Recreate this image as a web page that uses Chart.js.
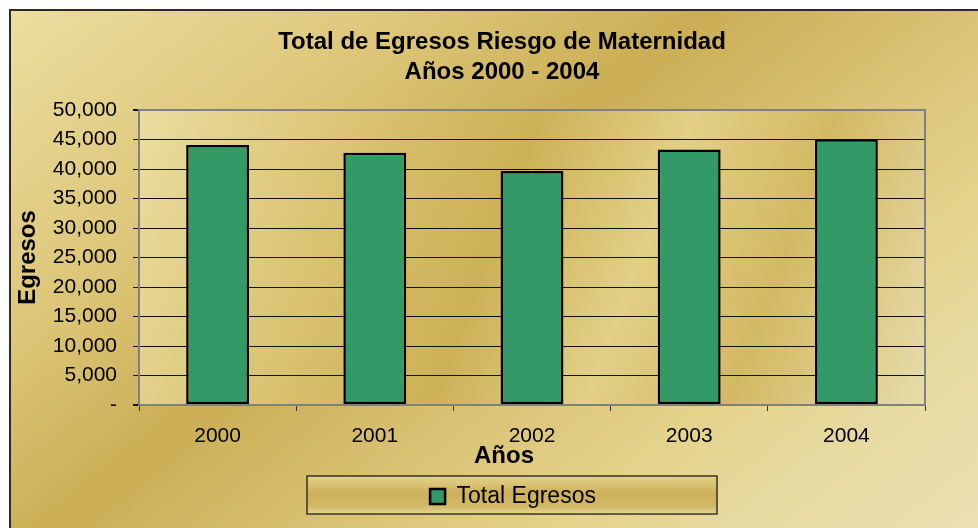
<!DOCTYPE html>
<html>
<head>
<meta charset="utf-8">
<script src="https://cdn.jsdelivr.net/npm/chart.js@4.4.1/dist/chart.umd.min.js"></script>
<style>
html, body { margin: 0; padding: 0; background: #fff; }
</style>
</head>
<body>
<canvas id="myChart" width="978" height="528"></canvas>
<script>
// categories and values
var years = ['2000', '2001', '2002', '2003', '2004'];
var egresos = [44050, 42750, 39650, 43300, 45050];
var titulo = ['Total de Egresos Riesgo de Maternidad', 'Años 2000 - 2004'];
var serie = 'Total Egresos';
var ejeX = 'Años';
var ejeY = 'Egresos';

var FONT = "'Liberation Sans', Arial, sans-serif";

// background, plot area and legend frame, plus the x title
var fondo = {
  id: 'fondo',
  afterLayout: function(chart) {
    // Excel centres title and legend on the full chart box, not the plot
    var t = chart.titleBlock;
    var d = 502 - (t.left + t.right) / 2;
    t.left += d; t.right += d;
    var l = chart.legend;
    d = 513 - (l.left + l.right) / 2;
    l.left += d; l.right += d;
    l.top += 4; l.bottom += 4;
  },
  beforeDraw: function(chart) {
    var c = chart.ctx, a = chart.chartArea;
    c.save();
    c.fillStyle = '#fff';
    c.fillRect(0, 0, chart.width, chart.height);
    var g = c.createLinearGradient(10, 10, 760, 950);
    g.addColorStop(0, '#ebdea0');
    g.addColorStop(0.22, '#dcc577');
    g.addColorStop(0.36, '#cbae55');
    g.addColorStop(0.5, '#d9c275');
    g.addColorStop(0.62, '#e4d38b');
    g.addColorStop(0.74, '#e8dca6');
    g.addColorStop(1, '#efe6c0');
    c.fillStyle = g;
    c.fillRect(10, 10, chart.width, chart.height);
    c.strokeStyle = '#2e2a20';
    c.lineWidth = 2;
    c.beginPath();
    c.moveTo(10, chart.height + 2);
    c.lineTo(10, 10);
    c.lineTo(chart.width + 2, 10);
    c.stroke();

    // plot area
    var p = c.createLinearGradient(a.left, a.top, a.right, a.bottom);
    p.addColorStop(0, '#ebdda0');
    p.addColorStop(0.3, '#d7be6a');
    p.addColorStop(0.45, '#cdb158');
    p.addColorStop(0.62, '#e2d086');
    p.addColorStop(0.78, '#d3b963');
    p.addColorStop(1, '#e7dcab');
    c.fillStyle = p;
    c.fillRect(a.left, a.top, a.right - a.left, a.bottom - a.top);

    // legend frame
    var l = chart.legend;
    var cx = 512, cy = 495;
    var bw = 410, bh = 38;
    var lg = c.createLinearGradient(0, cy - bh / 2, 0, cy + bh / 2);
    lg.addColorStop(0, '#e4d48c');
    lg.addColorStop(0.45, '#cdb05a');
    lg.addColorStop(0.8, '#d2b866');
    lg.addColorStop(1, '#e6d798');
    c.fillStyle = lg;
    c.fillRect(cx - bw / 2, cy - bh / 2, bw, bh);
    c.strokeStyle = '#3a3220';
    c.lineWidth = 1.5;
    c.strokeRect(cx - bw / 2, cy - bh / 2, bw, bh);
    c.restore();
  },
  beforeDatasetsDraw: function(chart) {
    var c = chart.ctx, a = chart.chartArea;
    c.save();
    c.strokeStyle = '#808080';
    c.lineWidth = 2;
    c.beginPath();
    c.moveTo(a.right, a.top - 1);
    c.lineTo(a.right, a.bottom);
    c.stroke();
    c.restore();
  },
  afterDraw: function(chart) {
    var c = chart.ctx;
    c.save();
    c.font = 'bold 24px ' + FONT;
    c.fillStyle = '#000';
    c.textAlign = 'center';
    c.textBaseline = 'alphabetic';
    c.fillText(ejeX, 504, 463);
    c.restore();
  }
};

var ctx = document.getElementById('myChart');
var myChart = new Chart(ctx, {
  type: 'bar',
  data: {
    labels: years,
    datasets: [{
      label: serie,
      data: egresos,
      backgroundColor: '#339966',
      borderColor: '#000',
      borderWidth: 2.5,
      borderSkipped: false,
      categoryPercentage: 0.8,
      barPercentage: 0.5
    }]
  },
  options: {
    responsive: false,
    animation: false,
    devicePixelRatio: 1,
    layout: { padding: { left: 10, right: 53, top: 10, bottom: 14 } },
    plugins: {
      title: {
        display: true,
        text: titulo,
        color: '#000',
        font: { family: FONT, size: 24, weight: 'bold', lineHeight: 1.25 },
        padding: { top: 17, bottom: 23 }
      },
      legend: {
        position: 'bottom',
        labels: {
          color: '#000',
          font: { family: FONT, size: 23 },
          boxWidth: 15,
          boxHeight: 15,
          padding: 10
        }
      },
      tooltip: { enabled: false }
    },
    scales: {
      x: {
        grid: {
          offset: true,
          drawOnChartArea: false,
          tickLength: 6,
          tickColor: '#333'
        },
        border: { color: '#808080', width: 2 },
        ticks: { color: '#000', font: { family: FONT, size: 21 }, padding: 13 },
        afterFit: function(s) { s.height = 66; }
      },
      y: {
        min: 0,
        max: 50000,
        ticks: {
          stepSize: 5000,
          color: '#000',
          padding: 16,
          font: { family: FONT, size: 21 },
          callback: function(v) { return v === 0 ? '-' : v.toLocaleString('en-US'); }
        },
        grid: {
          color: function(c) {
            var v = c.tick ? c.tick.value : 0;
            return (v === 0 || v === 50000) ? '#808080' : '#111';
          },
          lineWidth: function(c) {
            var v = c.tick ? c.tick.value : 0;
            return (v === 0 || v === 50000) ? 2 : 1;
          },
          tickLength: 6,
          tickColor: '#111'
        },
        border: { color: '#808080', width: 2 },
        title: {
          display: true,
          text: ejeY,
          color: '#000',
          font: { family: FONT, size: 24, weight: 'bold' },
          padding: { top: 4, bottom: 0 }
        },
        afterFit: function(s) { s.width = 129; }
      }
    }
  },
  plugins: [fondo]
});
</script>
</body>
</html>
